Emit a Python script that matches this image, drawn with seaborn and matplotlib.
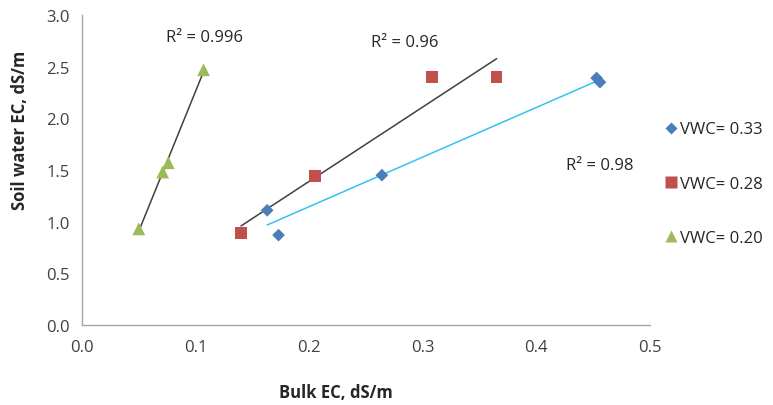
import numpy as np
import pandas as pd
import matplotlib
matplotlib.use("Agg")
import matplotlib.pyplot as plt
import seaborn as sns

# ---- data ----
labels = ["VWC= 0.33", "VWC= 0.28", "VWC= 0.20"]
x_033 = [0.163, 0.173, 0.264, 0.453, 0.456]
y_033 = [1.11, 0.87, 1.45, 2.39, 2.35]
x_028 = [0.140, 0.205, 0.308, 0.365]
y_028 = [0.89, 1.44, 2.40, 2.40]
x_020 = [0.050, 0.071, 0.076, 0.107]
y_020 = [0.93, 1.48, 1.57, 2.47]
r2_labels = ["R² = 0.98", "R² = 0.96", "R² = 0.996"]
x_ticks = [0.0, 0.1, 0.2, 0.3, 0.4, 0.5]
y_ticks = [0.0, 0.5, 1.0, 1.5, 2.0, 2.5, 3.0]

xs = [x_033, x_028, x_020]
ys = [y_033, y_028, y_020]
df = pd.concat([pd.DataFrame({"x": x, "y": y, "series": lab}) for x, y, lab in zip(xs, ys, labels)],
               ignore_index=True)

sns.set_style("white")
plt.rcParams["font.family"] = ["Open Sans", "DejaVu Sans"]
FS = 12

fig = plt.figure(figsize=(7.73, 4.06), dpi=100)
ax = fig.add_axes([82/773, 80/406, (650-82)/773, (326-16)/406])

point_colors = ["#4A7EBB", "#C0504D", "#9BBB59"]
markers = {"VWC= 0.33": "D", "VWC= 0.28": "s", "VWC= 0.20": "^"}
sizes = [42, 70, 85]
line_colors = ["#33C3F0", "#404040", "#404040"]

handles = []
for lab, c, lc, s, x, y in zip(labels, point_colors, line_colors, sizes, xs, ys):
    sub = df[df["series"] == lab]
    sns.regplot(data=sub, x="x", y="y", ax=ax, scatter=False, ci=None, truncate=True,
                line_kws={"color": lc, "lw": 1.1})
    sns.scatterplot(data=sub, x="x", y="y", ax=ax, color=c, marker=markers[lab], s=s,
                    edgecolor="none", zorder=3, label=lab, legend=False)
    handles.append(plt.Line2D([], [], ls="none", marker=markers[lab], color=c,
                              markersize={"D": 6, "s": 8, "^": 9}[markers[lab]],
                              markeredgecolor="none", label=lab))

ax.set_xlim(0, 0.5)
ax.set_ylim(0, 3.0)
ax.set_xticks(x_ticks)
ax.set_yticks(y_ticks)
ax.set_xticklabels([f"{v:.1f}" for v in x_ticks], fontsize=FS, color="#404040")
ax.set_yticklabels([f"{v:.1f}" for v in y_ticks], fontsize=FS, color="#404040")
ax.tick_params(axis="both", length=0, pad=9)
ax.tick_params(axis="x", pad=10)
for sp in ["top", "right"]:
    ax.spines[sp].set_visible(False)
for sp in ["left", "bottom"]:
    ax.spines[sp].set_color("#A6A6A6")
    ax.spines[sp].set_linewidth(1.0)
ax.set_xlabel("")
ax.set_ylabel("")

# R² annotations
ax.text(0.456, 1.55, r2_labels[0], fontsize=FS, color="#262626", ha="center", va="center")
ax.text(0.284, 2.74, r2_labels[1], fontsize=FS, color="#262626", ha="center", va="center")
ax.text(0.108, 2.79, r2_labels[2], fontsize=FS, color="#262626", ha="center", va="center")

fig.text(336/773, 1 - 393/406, "Bulk EC, dS/m", fontsize=FS, fontweight="bold",
         color="#262626", ha="center", va="center")
fig.text(20/773, 1 - 130/406, "Soil water EC, dS/m", fontsize=FS, fontweight="bold",
         color="#262626", ha="center", va="center", rotation=90)

fig.legend(handles=handles, loc="upper left", bbox_to_anchor=(657/773, 1 - 114/406),
           frameon=False, fontsize=FS, handlelength=0.7, handletextpad=0.2,
           labelspacing=2.3, borderpad=0, labelcolor="#262626")

fig.savefig("out.png", dpi=100)
